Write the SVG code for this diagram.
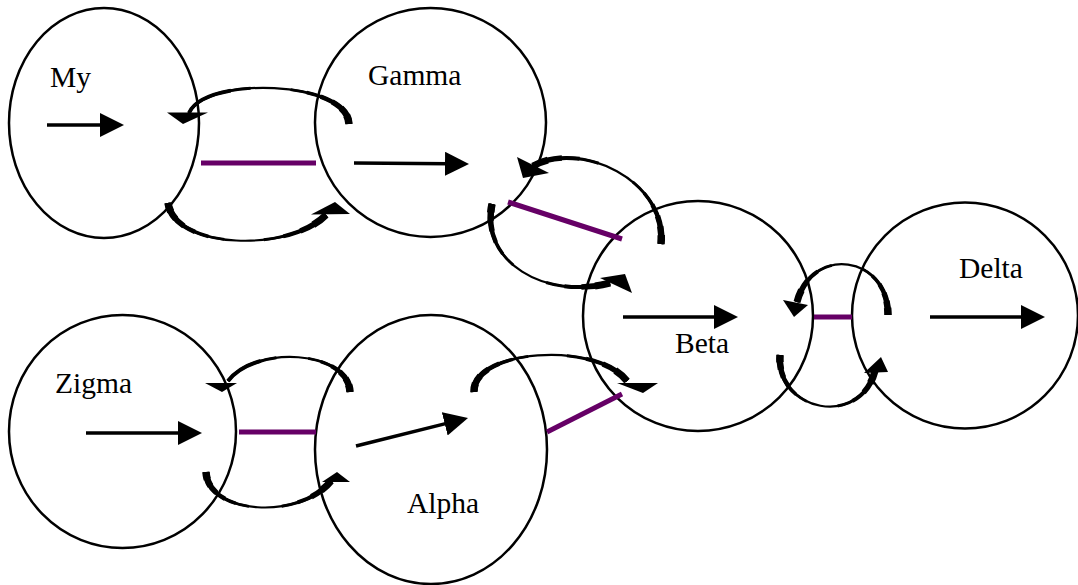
<svg xmlns="http://www.w3.org/2000/svg" xmlns:xlink="http://www.w3.org/1999/xlink" width="1078" height="585" viewBox="0 0 1078 585">
  <style>
    .node { fill: #fff; stroke: #000; stroke-width: 2.5; }
    .lbl { font-family: "Liberation Serif", "Times New Roman", serif; font-size: 29.5px; fill: #000; }
    .flow { stroke: #000; stroke-width: 3.5; fill: none; marker-end: url(#head); }
    .bond { stroke: #660066; stroke-width: 5; fill: none; }
    .cv { fill: none; stroke: #000; stroke-linecap: butt; }
    /* thin core of each curved arrow */
    .w0 { stroke-width: 2.2; }
    /* widening toward the tail */
    .t1 { stroke-width: 7.5; stroke-dasharray: 5 200; }
    .t2 { stroke-width: 6.5; stroke-dasharray: 10 200; }
    .t3 { stroke-width: 5.5; stroke-dasharray: 16 200; }
    .t4 { stroke-width: 4.5; stroke-dasharray: 23 200; }
    .t5 { stroke-width: 3.5; stroke-dasharray: 31 200; }
    .t6 { stroke-width: 2.8; stroke-dasharray: 40 200; }
    /* widening toward the head */
    .h1 { stroke-width: 3; stroke-dasharray: 0 62 38 10; }
    .h2 { stroke-width: 4; stroke-dasharray: 0 73 27 10; }
    .h3 { stroke-width: 5.5; stroke-dasharray: 0 83 17 10; }
    .h4 { stroke-width: 7; stroke-dasharray: 0 91 9 10; }
    .tip { fill: #000; stroke: none; }
  </style>
  <defs>
    <marker id="head" viewBox="0 0 24 24" markerWidth="24" markerHeight="24" markerUnits="userSpaceOnUse" refX="4" refY="12" orient="auto">
      <path d="M0,0 L24,12 L0,24 Z" fill="#000"/>
    </marker>
    <!-- curved exchange arrows: each runs from its thick tail to the base of its head -->
    <path id="pA" pathLength="100" d="M349,124 C347,80 205,76 189,113"/>
    <path id="pB" pathLength="100" d="M168,203 C175,250 290,252 326,215"/>
    <path id="pC" pathLength="100" d="M661,244 C667,180 580,140 533,166"/>
    <path id="pD" pathLength="100" d="M492,204 C480,262 545,300 610,283"/>
    <path id="pE" pathLength="100" d="M888,315 C888,255 812,245 797,302"/>
    <path id="pF" pathLength="100" d="M780,355 C776,412 860,428 875,371"/>
    <path id="pG" pathLength="100" d="M350,392 C348,350 255,345 228,381"/>
    <path id="pH" pathLength="100" d="M206,472 C208,515 300,520 331,481"/>
    <path id="pI" pathLength="100" d="M474,392 C472,350 595,340 627,381"/>
  </defs>

  <rect width="1078" height="585" fill="#fff"/>

  <!-- nodes -->
  <g id="my">
    <ellipse class="node" cx="104" cy="123" rx="95" ry="115"/>
    <text class="lbl" x="50" y="87">My</text>
    <line class="flow" x1="47" y1="125" x2="104" y2="125"/>
  </g>
  <g id="gamma">
    <ellipse class="node" cx="430.5" cy="122.5" rx="115.5" ry="114.5"/>
    <text class="lbl" x="368" y="85">Gamma</text>
    <line class="flow" x1="354" y1="163" x2="449" y2="163.8"/>
  </g>
  <g id="beta">
    <ellipse class="node" cx="698" cy="316" rx="115" ry="115"/>
    <text class="lbl" x="675" y="353">Beta</text>
    <line class="flow" x1="623" y1="317" x2="718" y2="317"/>
  </g>
  <g id="delta">
    <ellipse class="node" cx="965" cy="315.5" rx="113" ry="113"/>
    <text class="lbl" x="959" y="278">Delta</text>
    <line class="flow" x1="930" y1="317" x2="1025" y2="317"/>
  </g>
  <g id="zigma">
    <ellipse class="node" cx="122.5" cy="431.5" rx="113.5" ry="116.5"/>
    <text class="lbl" x="55" y="393">Zigma</text>
    <line class="flow" x1="86" y1="433" x2="182" y2="433"/>
  </g>
  <g id="alpha">
    <ellipse class="node" cx="431" cy="449.5" rx="116" ry="134.5"/>
    <text class="lbl" x="407" y="513">Alpha</text>
    <line class="flow" x1="356" y1="446" x2="448.6" y2="422.9"/>
  </g>

  <!-- connectors -->
  <g id="connectors">
    <!-- bonds between neighbouring nodes -->
    <line class="bond" x1="201" y1="163" x2="316" y2="163"/>
    <line class="bond" x1="508" y1="202" x2="622" y2="239"/>
    <line class="bond" x1="814" y1="317" x2="852" y2="317"/>
    <line class="bond" x1="239" y1="432" x2="316" y2="432"/>
    <line class="bond" x1="547" y1="432" x2="622" y2="394"/>

    <!-- Gamma to My -->
    <g id="arcA">
      <use href="#pA" class="cv w0"/><use href="#pA" class="cv t6"/><use href="#pA" class="cv t5"/><use href="#pA" class="cv t4"/><use href="#pA" class="cv t3"/><use href="#pA" class="cv t2"/><use href="#pA" class="cv t1"/><use href="#pA" class="cv h1"/><use href="#pA" class="cv h2"/>
      <polygon class="tip" points="167,112.5 208,112.5 183,124"/>
    </g>
    <!-- My to Gamma -->
    <g id="arcB">
      <use href="#pB" class="cv w0"/><use href="#pB" class="cv t6"/><use href="#pB" class="cv t5"/><use href="#pB" class="cv t4"/><use href="#pB" class="cv t3"/><use href="#pB" class="cv t2"/><use href="#pB" class="cv t1"/><use href="#pB" class="cv h1"/><use href="#pB" class="cv h2"/><use href="#pB" class="cv h3"/><use href="#pB" class="cv h4"/>
      <polygon class="tip" points="311,214.5 350,214 335,202"/>
    </g>
    <!-- Beta to Gamma -->
    <g id="arcC">
      <use href="#pC" class="cv w0"/><use href="#pC" class="cv t6"/><use href="#pC" class="cv t5"/><use href="#pC" class="cv t4"/><use href="#pC" class="cv t3"/><use href="#pC" class="cv t2"/><use href="#pC" class="cv t1"/><use href="#pC" class="cv h1"/><use href="#pC" class="cv h2"/><use href="#pC" class="cv h3"/><use href="#pC" class="cv h4"/>
      <polygon class="tip" points="517,157 549,173 523,178"/>
    </g>
    <!-- Gamma to Beta -->
    <g id="arcD">
      <use href="#pD" class="cv w0"/><use href="#pD" class="cv t6"/><use href="#pD" class="cv t5"/><use href="#pD" class="cv t4"/><use href="#pD" class="cv t3"/><use href="#pD" class="cv t2"/><use href="#pD" class="cv t1"/><use href="#pD" class="cv h1"/><use href="#pD" class="cv h2"/><use href="#pD" class="cv h3"/><use href="#pD" class="cv h4"/>
      <polygon class="tip" points="600,278 625,274 632,293"/>
    </g>
    <!-- Delta to Beta -->
    <g id="arcE">
      <use href="#pE" class="cv w0"/><use href="#pE" class="cv t6"/><use href="#pE" class="cv t5"/><use href="#pE" class="cv t4"/><use href="#pE" class="cv t3"/><use href="#pE" class="cv t2"/><use href="#pE" class="cv t1"/><use href="#pE" class="cv h1"/><use href="#pE" class="cv h2"/><use href="#pE" class="cv h3"/><use href="#pE" class="cv h4"/>
      <polygon class="tip" points="783,300 808,305 794,317"/>
    </g>
    <!-- Beta to Delta -->
    <g id="arcF">
      <use href="#pF" class="cv w0"/><use href="#pF" class="cv t6"/><use href="#pF" class="cv t5"/><use href="#pF" class="cv t4"/><use href="#pF" class="cv t3"/><use href="#pF" class="cv t2"/><use href="#pF" class="cv t1"/><use href="#pF" class="cv h1"/><use href="#pF" class="cv h2"/><use href="#pF" class="cv h3"/><use href="#pF" class="cv h4"/>
      <polygon class="tip" points="864,373 888,372 881,357"/>
    </g>
    <!-- Alpha to Zigma -->
    <g id="arcG">
      <use href="#pG" class="cv w0"/><use href="#pG" class="cv t6"/><use href="#pG" class="cv t5"/><use href="#pG" class="cv t4"/><use href="#pG" class="cv t3"/><use href="#pG" class="cv t2"/><use href="#pG" class="cv t1"/><use href="#pG" class="cv h1"/><use href="#pG" class="cv h2"/>
      <polygon class="tip" points="205,383 237,383 222,392"/>
    </g>
    <!-- Zigma to Alpha -->
    <g id="arcH">
      <use href="#pH" class="cv w0"/><use href="#pH" class="cv t6"/><use href="#pH" class="cv t5"/><use href="#pH" class="cv t4"/><use href="#pH" class="cv t3"/><use href="#pH" class="cv t2"/><use href="#pH" class="cv t1"/><use href="#pH" class="cv h1"/><use href="#pH" class="cv h2"/><use href="#pH" class="cv h3"/><use href="#pH" class="cv h4"/>
      <polygon class="tip" points="322,482 350,482 337,472"/>
    </g>
    <!-- Alpha to Beta -->
    <g id="arcI">
      <use href="#pI" class="cv w0"/><use href="#pI" class="cv t6"/><use href="#pI" class="cv t5"/><use href="#pI" class="cv t4"/><use href="#pI" class="cv t3"/><use href="#pI" class="cv t2"/><use href="#pI" class="cv t1"/><use href="#pI" class="cv h1"/><use href="#pI" class="cv h2"/><use href="#pI" class="cv h3"/><use href="#pI" class="cv h4"/>
      <polygon class="tip" points="617,383 658,383 643,393"/>
    </g>
  </g>
</svg>
